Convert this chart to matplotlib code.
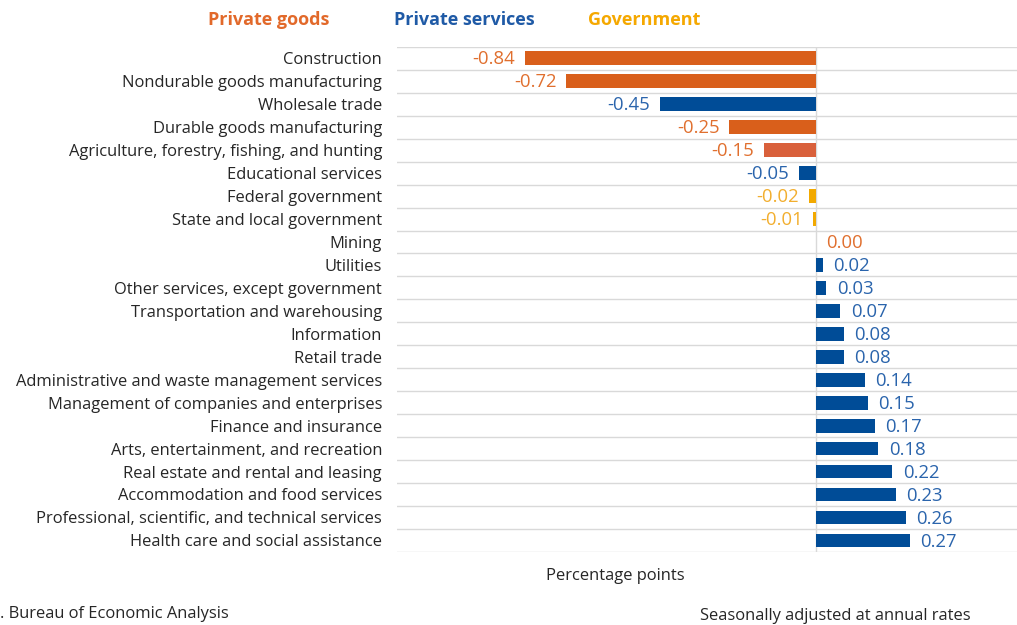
import matplotlib.pyplot as plt

plt.rcParams['font.family'] = ['Open Sans', 'DejaVu Sans']

industries = [
    "Construction",
    "Nondurable goods manufacturing",
    "Wholesale trade",
    "Durable goods manufacturing",
    "Agriculture, forestry, fishing, and hunting",
    "Educational services",
    "Federal government",
    "State and local government",
    "Mining",
    "Utilities",
    "Other services, except government",
    "Transportation and warehousing",
    "Information",
    "Retail trade",
    "Administrative and waste management services",
    "Management of companies and enterprises",
    "Finance and insurance",
    "Arts, entertainment, and recreation",
    "Real estate and rental and leasing",
    "Accommodation and food services",
    "Professional, scientific, and technical services",
    "Health care and social assistance",
]
contrib = [-0.84, -0.72, -0.45, -0.25, -0.15, -0.05, -0.02, -0.01, 0.00,
           0.02, 0.03, 0.07, 0.08, 0.08, 0.14, 0.15, 0.17, 0.18, 0.22,
           0.23, 0.26, 0.27]
sector = ["goods", "goods", "services", "goods", "goods", "services", "gov", "gov",
          "goods", "services", "services", "services", "services", "services",
          "services", "services", "services", "services", "services", "services",
          "services", "services"]

bar_col = {"goods": "#D95F1B", "services": "#004C97", "gov": "#F2A900"}
txt_col = {"goods": "#E06F2E", "services": "#2A64AC", "gov": "#F2AE2E"}
legend_col = {"goods": "#E2692A", "services": "#1F5AA6", "gov": "#F5A800"}

FS = 11.9     # category names and footer
VFS = 13.3    # value labels

fig = plt.figure(figsize=(10.17, 6.25), dpi=100)
ax = fig.add_axes([0.390, 0.117, 0.61, 0.808])

colors = [bar_col[s] for s in sector]
colors[4] = "#D9603B"  # agriculture drawn a touch redder
y = list(range(len(industries)))
ax.barh(y, contrib, height=0.6, color=colors, zorder=3)

for i, (v, s) in enumerate(zip(contrib, sector)):
    if v < 0:
        ax.text(v - 0.028, i + 0.05, f"{v:.2f}", ha="right", va="center",
                fontsize=VFS, color=txt_col[s])
    else:
        ax.text(v + 0.03, i + 0.05, f"{v:.2f}", ha="left", va="center",
                fontsize=VFS, color=txt_col[s])

ax.set_ylim(len(industries) - 0.5, -0.5)
ax.set_xlim(-1.21, 0.58)
ax.set_yticks(y)
ax.set_yticklabels(industries, fontsize=FS, color="#262626")
ax.tick_params(axis="y", length=0, pad=10.5)
ax.set_xticks([])

# separators between rows
for b in range(len(industries) + 1):
    ax.axhline(b - 0.5, color="#D9D9D9", lw=1, zorder=1)
ax.axvline(0, color="#D9D9D9", lw=1, zorder=2)

for sp in ax.spines.values():
    sp.set_visible(False)

fig.text(0.205, 0.968, "Private goods", color=legend_col["goods"],
         fontsize=13, fontweight="bold", va="center")
fig.text(0.387, 0.968, "Private services", color=legend_col["services"],
         fontsize=13, fontweight="bold", va="center")
fig.text(0.578, 0.968, "Government", color=legend_col["gov"],
         fontsize=13, fontweight="bold", va="center")

fig.text(0.605, 0.078, "Percentage points", ha="center", va="center",
         fontsize=FS, color="#262626")
fig.text(0.0, 0.018, ". Bureau of Economic Analysis", ha="left", va="center",
         fontsize=FS, color="#262626")
fig.text(0.688, 0.002, "Seasonally adjusted at annual rates", ha="left",
         va="bottom", fontsize=FS, color="#262626")

fig.savefig("out.png", dpi=100, facecolor="white")
